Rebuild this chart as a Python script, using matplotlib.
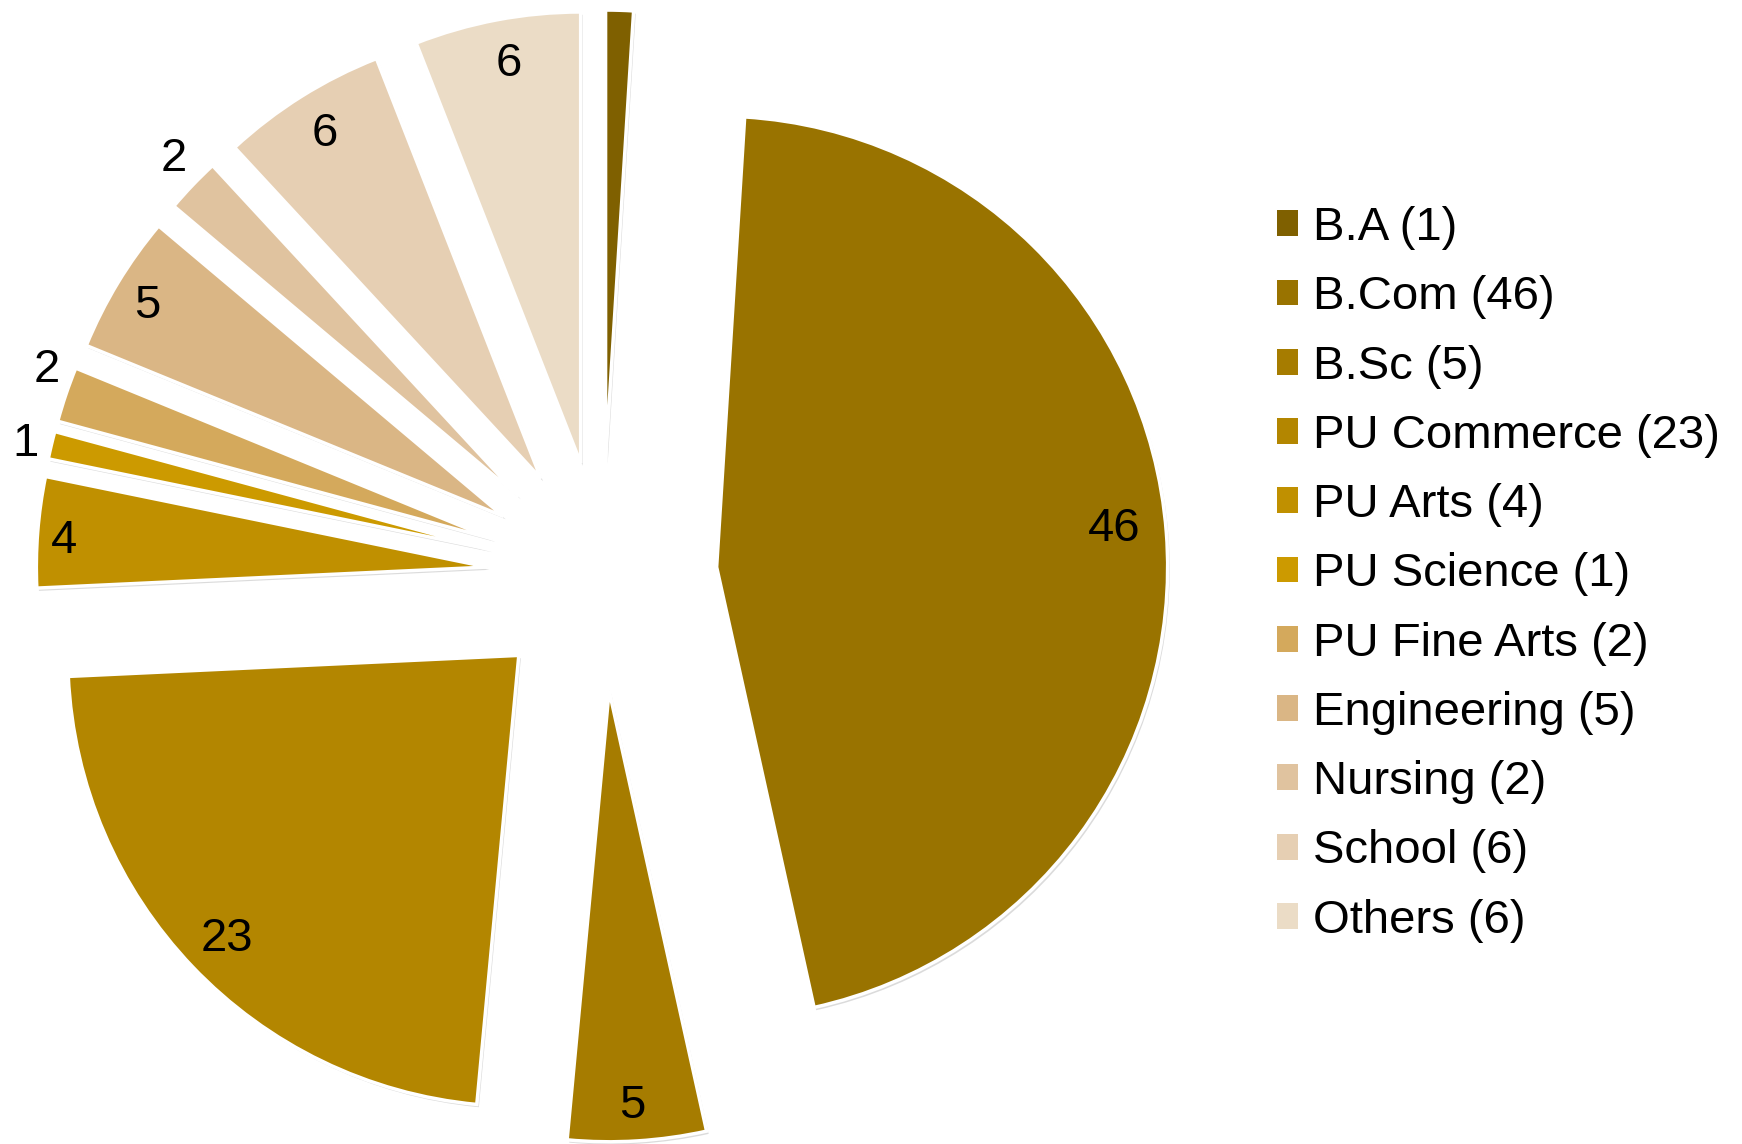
import numpy as np
import matplotlib
matplotlib.use("Agg")
import matplotlib.pyplot as plt

categories = ["B.A", "B.Com", "B.Sc", "PU Commerce", "PU Arts", "PU Science",
              "PU Fine Arts", "Engineering", "Nursing", "School", "Others"]
values = [1, 46, 5, 23, 4, 1, 2, 5, 2, 6, 6]
colors = ["#7f6000", "#997300", "#a67c00", "#b38600", "#c09000", "#cc9a00",
          "#d4a95c", "#dab685", "#e0c39f", "#e6cfb3", "#ebdcc6"]
legend_labels = [f"{c} ({v})" for c, v in zip(categories, values)]
# label placement (fraction of radius, angular nudge in degrees)
label_dist = [1.06, 0.886, 0.916, 0.897, 0.94, 1.058, 1.06, 0.92, 1.075, 0.908, 0.905]
label_nudge = [0.0, 1.5, -0.3, 0.2, 0.6, 0.3, -2.4, 0.3, -1.0, -0.2, -0.6]

plt.rcParams['font.family'] = ['Liberation Sans', 'DejaVu Sans']

W, H = 1742, 1144
fig = plt.figure(figsize=(W / 100, H / 100), dpi=100)
ax = fig.add_axes([0, 0, 1, 1])

cx, cy, R = 602, H - 576, 451
gap = 115  # explode offset in data units (pixels)
wedges, _ = ax.pie(values, colors=colors, startangle=90, counterclock=False,
                   explode=[gap] * len(values), radius=R, center=(cx, cy),
                   frame=True,
                   wedgeprops=dict(edgecolor="white", linewidth=2.5),
                   shadow={'ox': 1.5, 'oy': -2.0, 'facecolor': '#b0b0b0',
                           'alpha': 0.45, 'edgecolor': 'none'})

fs = 34
cap_half = fs * 100 / 72 * 0.716 / 2
for w, f, d, v in zip(wedges, label_dist, label_nudge, values):
    mid = np.deg2rad((w.theta1 + w.theta2) / 2 + d)
    x0, y0 = w.center
    ax.text(x0 + f * w.r * np.cos(mid), y0 + f * w.r * np.sin(mid) - cap_half + 2, str(v),
            ha="center", va="baseline", fontsize=fs, color="black")

ax.set_xlim(0, W)
ax.set_ylim(0, H)
ax.set_aspect("equal")
ax.axis("off")

leg = ax.legend(wedges, legend_labels, loc="upper left",
                bbox_to_anchor=(1277 / W, 1 - 206 / H), bbox_transform=fig.transFigure,
                frameon=False, fontsize=34,
                handlelength=0.445, handleheight=0.466,
                handletextpad=0.32, labelspacing=0.535, borderpad=0, borderaxespad=0)
for h in leg.legend_handles:
    h.set_edgecolor("none")

fig.savefig("out.png", dpi=100)
